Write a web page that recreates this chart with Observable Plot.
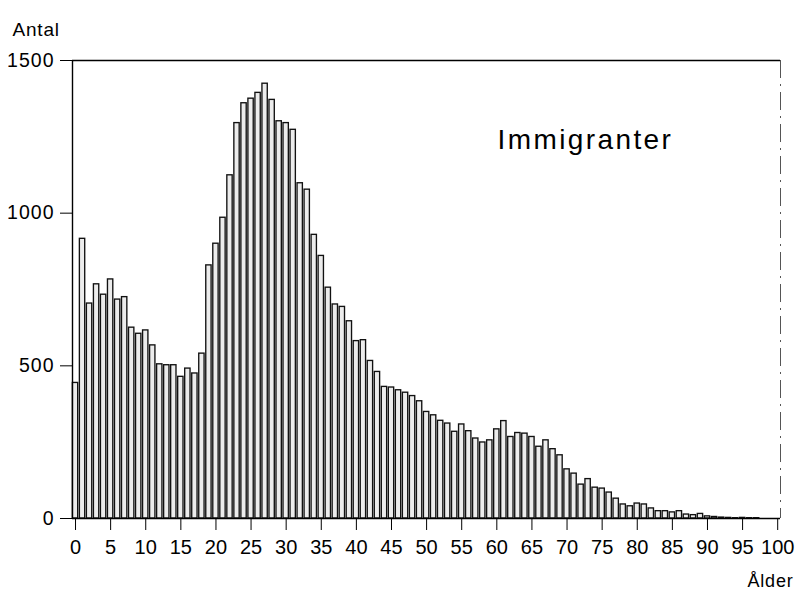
<!DOCTYPE html>
<html>
<head>
<meta charset="utf-8">
<script src="https://cdn.jsdelivr.net/npm/d3@7"></script>
<script src="https://cdn.jsdelivr.net/npm/@observablehq/plot@0.6"></script>
<style>
  html, body { margin: 0; padding: 0; background: #fff; }
  #chart { width: 797px; height: 594px; }
</style>
</head>
<body>
<div id="chart"></div>
<script>
// Ages 0..100 and number of immigrants per age
const ages = d3.range(0, 101);
const counts = [
  444, 916, 704, 767, 733, 783, 717, 725, 625, 605,
  616, 567, 505, 502, 502, 464, 491, 475, 540, 829,
  900, 985, 1124, 1295, 1360, 1375, 1394, 1424, 1371, 1301,
  1295, 1273, 1098, 1077, 929, 860, 756, 701, 693, 646,
  581, 584, 516, 480, 431, 429, 420, 412, 401, 384,
  349, 338, 320, 311, 284, 308, 286, 262, 249, 256,
  292, 319, 267, 280, 278, 267, 235, 256, 227, 207,
  161, 147, 111, 129, 101, 98, 85, 65, 46, 40,
  49, 46, 33, 24, 24, 20, 24, 13, 11, 15,
  7, 5, 3, 2, 1, 2, 1, 1, 0, 0,
  0
];
const xTicks = d3.range(0, 101, 5);
const yTicks = [0, 500, 1000, 1500];
const xDomain = [-0.43, 100.4];
const yDomain = [0, 1500];
const titleText = "Immigranter";
const yLabel = "Antal";
const xLabel = "Ålder";

const data = ages.map((a, i) => ({age: a, count: counts[i]}));

const font = "'Liberation Sans', Arial, Helvetica, sans-serif";

const chart = Plot.plot({
  width: 797,
  height: 594,
  marginLeft: 72,
  marginRight: 17,
  marginTop: 60,
  marginBottom: 76,
  style: {fontFamily: font, color: "#000", background: "#fff"},
  x: {domain: xDomain},
  y: {domain: yDomain},
  marks: [
    Plot.rectY(data, {
      x1: d => d.age - 0.38,
      x2: d => d.age + 0.38,
      y1: 0,
      y2: "count",
      fill: "#ececec",
      stroke: "#111",
      strokeWidth: 1.35
    }),
    Plot.ruleY([yDomain[0]], {stroke: "#000", strokeWidth: 1.6}),
    Plot.ruleY([yDomain[1]], {stroke: "#000", strokeWidth: 1.4}),
    Plot.ruleX([xDomain[0]], {stroke: "#000", strokeWidth: 1.4}),
    Plot.ruleX([xDomain[1]], {stroke: "#555", strokeWidth: 1, strokeDasharray: "18,6,2,6"}),
    Plot.axisX({
      ticks: xTicks, tickSize: 12, tickPadding: 9, fontSize: 20,
      tickFormat: d => String(d), label: null, stroke: "#000"
    }),
    Plot.axisY({
      ticks: yTicks, tickSize: 12, tickPadding: 6, fontSize: 19.5,
      tickFormat: d => String(d), label: null, stroke: "#000"
    }),
    Plot.text([yLabel], {frameAnchor: "top-left", dx: -60, dy: -38, textAnchor: "start", fontSize: 19, fill: "#000"}),
    Plot.text([titleText], {frameAnchor: "top-left", dx: 425, dy: 69, textAnchor: "start", fontSize: 28, fill: "#000"}),
    Plot.text([xLabel], {frameAnchor: "bottom-right", dx: 13, dy: 68, textAnchor: "end", fontSize: 18, fill: "#000"})
  ]
});

document.getElementById("chart").appendChild(chart);

// letter spacing tweaks to mimic the wider Helvetica print
d3.select(chart).selectAll("text").each(function() {
  const t = this.textContent;
  if (t === titleText) this.setAttribute("letter-spacing", "2.4");
  else if (t === yLabel || t === xLabel) this.setAttribute("letter-spacing", "0.8");
  else if (yTicks.map(String).includes(t) && this.closest("g[aria-label='y-axis tick label']")) this.setAttribute("letter-spacing", "1.0");
});
</script>
</body>
</html>
